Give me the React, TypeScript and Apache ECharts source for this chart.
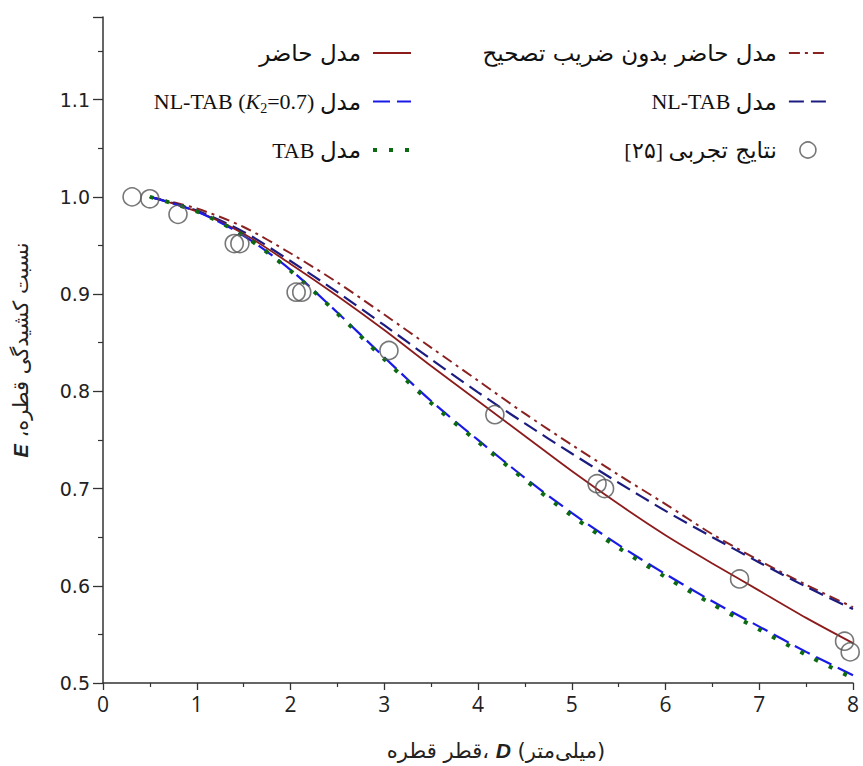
import React, { useEffect, useRef } from "react";
import * as echarts from "echarts";

// Drop diameter grid for model curves (mm)
const D_GRID = [0.5, 1, 1.5, 2, 2.5, 3, 3.5, 4, 4.5, 5, 5.5, 6, 6.5, 7, 7.5, 8];
// Model curves: drop deformation ratio E
const presentModel = [1.0, 0.985, 0.962, 0.931, 0.898, 0.863, 0.826, 0.79, 0.754, 0.718, 0.684, 0.652, 0.623, 0.595, 0.567, 0.541];
const noCorrection = [1.0, 0.988, 0.969, 0.942, 0.912, 0.879, 0.845, 0.811, 0.777, 0.745, 0.714, 0.684, 0.653, 0.626, 0.601, 0.578];
const nlTab = [1.0, 0.986, 0.964, 0.934, 0.902, 0.868, 0.833, 0.799, 0.767, 0.736, 0.706, 0.677, 0.65, 0.624, 0.599, 0.576];
const nlTabK2 = [1.0, 0.985, 0.96, 0.925, 0.881, 0.835, 0.79, 0.75, 0.711, 0.675, 0.642, 0.612, 0.584, 0.558, 0.532, 0.508];
const tab = [1.0, 0.985, 0.96, 0.924, 0.88, 0.833, 0.788, 0.748, 0.709, 0.672, 0.639, 0.609, 0.581, 0.555, 0.529, 0.505];
// Experimental data [25]
const expD = [0.31, 0.5, 0.8, 1.4, 1.46, 2.06, 2.12, 3.05, 4.18, 5.27, 5.35, 6.79, 7.91, 7.97];
const expE = [1.0, 0.998, 0.982, 0.952, 0.952, 0.902, 0.902, 0.842, 0.776, 0.705, 0.7, 0.607, 0.543, 0.532];

const N_PRESENT = "مدل حاضر";
const N_NOCORR = "مدل حاضر بدون ضریب تصحیح";
const N_NLK2 = "مدل NL-TAB (K2=0.7)";
const N_NL = "مدل NL-TAB";
const N_TAB = "مدل TAB";
const N_EXP = "نتایج تجربی [۲۵]";

const LEGEND_TEXT: Record<string, string> = {
  [N_PRESENT]: "{fa|مدل حاضر}",
  [N_NOCORR]: "{fa|مدل حاضر بدون ضریب تصحیح}",
  [N_NLK2]: "{la|NL-TAB (}{it|K}{sub|2}{la|=0.7) }{fa|مدل}",
  [N_NL]: "{la|NL-TAB }{fa|مدل}",
  [N_TAB]: "{la|TAB }{fa|مدل}",
  [N_EXP]: "{la|[۲۵] }{fa|نتایج تجربی}",
};

const C_BROWN = "#8c1c1c";
const C_BROWN2 = "#8a2222";
const C_NAVY = "#1c1c80";
const C_BLUE = "#1a1ae6";
const C_GREEN = "#0c6a12";

const STYLES: Record<string, any> = {
  [N_PRESENT]: { color: C_BROWN, width: 1.8, type: "solid" },
  [N_NOCORR]: { color: C_BROWN2, width: 2, type: [11, 5, 3, 5] },
  [N_NL]: { color: C_NAVY, width: 2.2, type: [15, 7] },
  [N_NLK2]: { color: C_BLUE, width: 2.2, type: [17, 7] },
  [N_TAB]: { color: C_GREEN, width: 4, type: [4, 12] },
};

const pairs = (ys: number[]) => D_GRID.map((x, i) => [x, ys[i]]);

export default function App() {
  const ref = useRef<HTMLDivElement>(null);
  useEffect(() => {
    if (!ref.current) return;
    const chart = echarts.init(ref.current, undefined, { renderer: "svg" });
    const axisColor = "#333";
    const rich = {
      fa: { fontFamily: "DejaVu Sans", fontSize: 23, color: "#111", lineHeight: 28 },
      la: { fontFamily: "Liberation Serif", fontSize: 22, color: "#111", lineHeight: 28 },
      it: { fontFamily: "Liberation Serif", fontStyle: "italic", fontSize: 22, color: "#111", lineHeight: 28 },
      sub: { fontFamily: "Liberation Serif", fontSize: 14, color: "#111", lineHeight: 28, verticalAlign: "bottom", padding: [9, 0, 0, 0] },
    };
    const lineItem = (name: string) => ({
      name,
      itemStyle: { opacity: 0 },
      lineStyle: { ...STYLES[name] },
    });
    const legendBase = {
      orient: "vertical",
      align: "right",
      itemWidth: 38,
      itemHeight: 16,
      itemGap: 20.5,
      padding: 0,
      top: 39,
      selectedMode: false,
      formatter: (n: string) => LEGEND_TEXT[n] || n,
      textStyle: { rich, lineHeight: 28, padding: [0, 7, 0, 0] },
    };
    const lineSeries = (name: string, ys: number[]) => ({
      name,
      type: "line",
      data: pairs(ys),
      smooth: 0.3,
      symbol: "none",
      showSymbol: false,
      lineStyle: { ...STYLES[name], cap: "butt" },
      itemStyle: { color: STYLES[name].color },
      z: 2,
    });
    chart.setOption({
      animation: false,
      backgroundColor: "#ffffff",
      grid: { left: 103, right: 10, top: 17, bottom: 80, containLabel: false },
      legend: [
        {
          ...legendBase,
          right: 450,
          data: [lineItem(N_PRESENT), lineItem(N_NLK2), lineItem(N_TAB)],
        },
        {
          ...legendBase,
          right: 35,
          data: [
            lineItem(N_NOCORR),
            lineItem(N_NL),
            { name: N_EXP, itemStyle: { color: "rgba(0,0,0,0)", borderColor: "#555", borderWidth: 1.6 } },
          ],
        },
      ],
      xAxis: {
        type: "value",
        min: 0,
        max: 8,
        interval: 1,
        splitLine: { show: false },
        axisLine: { lineStyle: { color: axisColor, width: 1.5 } },
        axisTick: { length: 7, lineStyle: { color: axisColor, width: 1.3 } },
        minorTick: { show: true, splitNumber: 2, length: 4, lineStyle: { color: axisColor, width: 1.2 } },
        axisLabel: { fontFamily: "Open Sans", fontSize: 21, color: "#222", margin: 10 },
        name: "{fa|قطر قطره، }{it|D}{fa| (میلی‌متر)}",
        nameLocation: "middle",
        nameGap: 57,
        nameTextStyle: {
          padding: [0, 0, 0, 36],
          rich: {
            fa: { fontFamily: "DejaVu Sans", fontSize: 21, color: "#222" },
            it: { fontFamily: "Liberation Sans", fontStyle: "italic", fontWeight: "bold", fontSize: 21, color: "#222" },
          },
        },
      },
      yAxis: {
        type: "value",
        min: 0.5,
        max: 1.185,
        interval: 0.1,
        splitLine: { show: false },
        axisLine: { lineStyle: { color: axisColor, width: 1.5 } },
        axisTick: { length: 10, lineStyle: { color: axisColor, width: 1.3 } },
        minorTick: { show: true, splitNumber: 2, length: 5, lineStyle: { color: axisColor, width: 1.2 } },
        axisLabel: {
          fontFamily: "DejaVu Sans",
          fontSize: 19,
          color: "#222",
          margin: 13,
          showMaxLabel: false,
          formatter: (v: number) => (Math.abs(v * 10 - Math.round(v * 10)) < 1e-6 ? v.toFixed(1) : ""),
        },
        name: "{it|E}{fa| نسبت کشیدگی قطره،\u200F}",
        nameLocation: "middle",
        nameRotate: 90,
        nameGap: 72,
        nameTextStyle: {
          rich: {
            fa: { fontFamily: "DejaVu Sans", fontSize: 21, color: "#222" },
            it: { fontFamily: "Liberation Sans", fontStyle: "italic", fontWeight: "bold", fontSize: 20, color: "#222" },
          },
        },
      },
      series: [
        lineSeries(N_NOCORR, noCorrection),
        lineSeries(N_NL, nlTab),
        lineSeries(N_PRESENT, presentModel),
        lineSeries(N_NLK2, nlTabK2),
        lineSeries(N_TAB, tab),
        {
          name: N_EXP,
          type: "scatter",
          data: expD.map((x, i) => [x, expE[i]]),
          symbol: "circle",
          symbolSize: 18,
          itemStyle: { color: "rgba(0,0,0,0)", borderColor: "#555", borderWidth: 1.6 },
          z: 3,
        },
      ],
    });
    return () => chart.dispose();
  }, []);
  return (
    <div
      ref={ref}
      style={{ position: "fixed", left: 0, top: 0, width: 863, height: 766, background: "#fff" }}
    />
  );
}
